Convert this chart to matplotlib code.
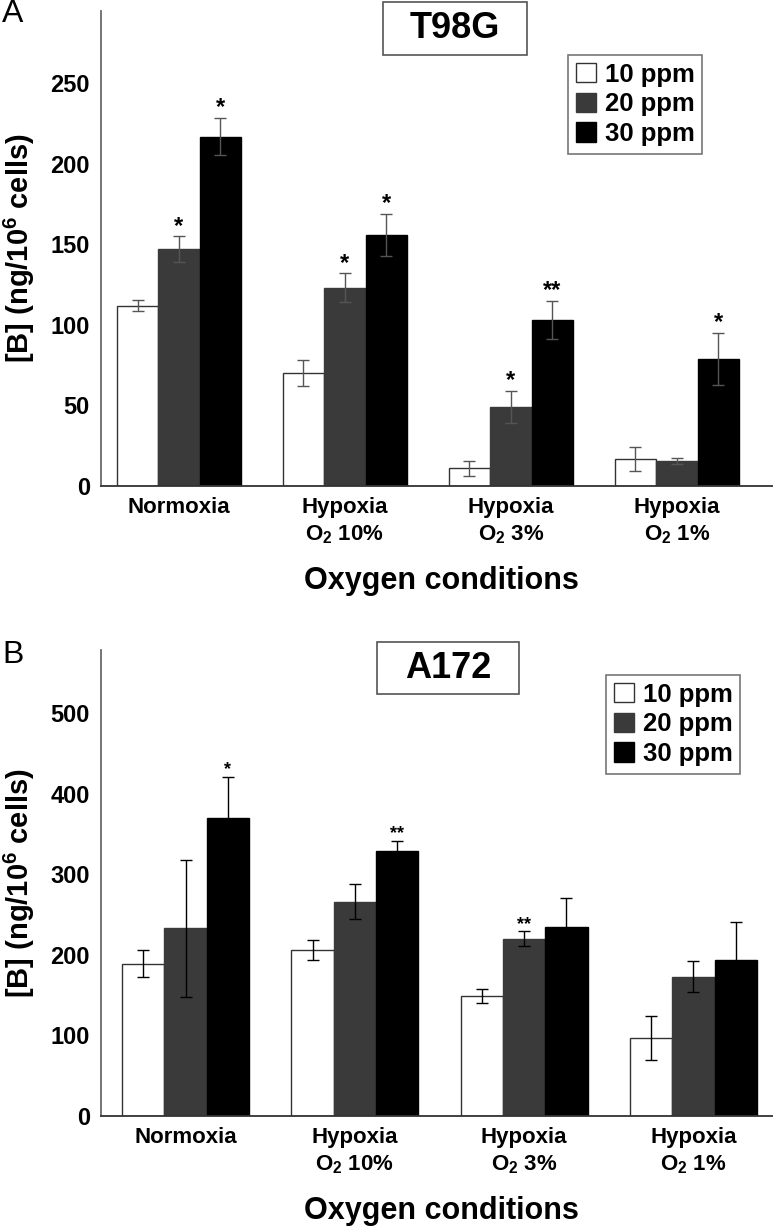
import matplotlib
matplotlib.use("Agg")
import matplotlib.pyplot as plt
from matplotlib.patches import Rectangle, Patch
import numpy as np

plt.rcParams['font.family'] = ['Liberation Sans', 'DejaVu Sans']
plt.rcParams['font.weight'] = 'bold'
plt.rcParams['mathtext.fontset'] = 'custom'
plt.rcParams['mathtext.rm'] = 'Liberation Sans:bold'
plt.rcParams['mathtext.bf'] = 'Liberation Sans:bold'
plt.rcParams['mathtext.it'] = 'Liberation Sans:bold'
plt.rcParams['mathtext.default'] = 'rm'

# ---------------- data ----------------
categories = ["Normoxia", "Hypoxia\nO$_2$ 10%", "Hypoxia\nO$_2$ 3%", "Hypoxia\nO$_2$ 1%"]
series_names = ["10 ppm", "20 ppm", "30 ppm"]

t98g_10 = [112, 70, 11, 17]
t98g_20 = [147, 123, 49, 15.5]
t98g_30 = [217, 156, 103, 79]
t98g_10_err = [3.5, 8, 4.5, 7.5]
t98g_20_err = [8, 9, 10, 2]
t98g_30_err = [11.5, 13, 12, 16]
t98g_stars_20 = ["*", "*", "*", ""]
t98g_stars_30 = ["*", "*", "**", "*"]

a172_10 = [189, 206, 149, 97]
a172_20 = [233, 266, 220, 173]
a172_30 = [370, 329, 234, 194]
a172_10_err = [17, 12, 9, 27]
a172_20_err = [85, 22, 9, 19]
a172_30_err = [51, 12, 36, 47]
a172_stars_20 = ["", "", "**", ""]
a172_stars_30 = ["*", "**", "", ""]

t98g_ticks = [0, 50, 100, 150, 200, 250]
a172_ticks = [0, 100, 200, 300, 400, 500]

W, H = 773, 1230
fig = plt.figure(figsize=(W / 100, H / 100), dpi=100)

def fbox(x0, y0, x1, y1):
    # pixel box (top-left origin) -> figure fraction [l, b, w, h]
    return [x0 / W, 1 - y1 / H, (x1 - x0) / W, (y1 - y0) / H]

colors = ["white", "#3a3a3a", "black"]
edgecols = ["#333333", "#3a3a3a", "black"]
bw = 0.25

def panel(rect, vals, errs, stars, ylim, xlim, ticks, ecolor, star_fs, title, title_box, legend_anchor, letter, letter_pos, xlabel_y):
    ax = fig.add_axes(rect)
    x = np.arange(len(categories))
    for i, (v, e) in enumerate(zip(vals, errs)):
        xi = x + (i - 1) * bw
        ax.bar(xi, v, width=bw, color=colors[i], edgecolor=edgecols[i], linewidth=1.0, zorder=2)
        ax.errorbar(xi, v, yerr=e, fmt='none', ecolor=ecolor, elinewidth=1.0, capsize=4, capthick=1.0, zorder=3)
        if stars[i] is not None:
            for j in range(len(categories)):
                s = stars[i][j]
                if s:
                    ax.annotate(s, (xi[j], v[j] + e[j]), xytext=(0, -1), textcoords='offset points',
                                ha='center', va='bottom', fontsize=star_fs, fontweight='bold', zorder=4)
    ax.set_xlim(*xlim)
    ax.set_ylim(*ylim)
    ax.set_yticks(ticks)
    ax.set_yticklabels([str(t) for t in ticks], fontsize=17, fontweight='bold')
    ax.set_xticks(x)
    ax.set_xticklabels(categories, fontsize=16, fontweight='bold', linespacing=1.3)
    ax.tick_params(axis='both', length=0)
    ax.tick_params(axis='y', pad=8)
    ax.tick_params(axis='x', pad=8)
    for s in ['top', 'right']:
        ax.spines[s].set_visible(False)
    ax.spines['left'].set_color('#6a6a6a')
    ax.spines['bottom'].set_color('#333333')
    ax.spines['left'].set_linewidth(1.3)
    ax.spines['bottom'].set_linewidth(1.3)
    ax.set_xlabel("Oxygen conditions", fontsize=22, fontweight='bold')
    ax.xaxis.set_label_coords(441 / W, 1 - xlabel_y / H, transform=fig.transFigure)
    ax.xaxis.label.set_va('center')
    ax.set_ylabel("[B] (ng/10$^6$ cells)", fontsize=21, fontweight='bold')
    ax.yaxis.set_label_coords(19 / W, 0.5, transform=fig.transFigure)
    ax.yaxis.label.set_va('center')
    ax.yaxis.label.set_y(1 - ((rect_to_px(rect))) / H)
    # title box
    bx0, by0, bx1, by1 = title_box
    fig.patches.append(Rectangle((bx0 / W, 1 - by1 / H), (bx1 - bx0) / W, (by1 - by0) / H,
                                 transform=fig.transFigure, facecolor='white', edgecolor='#555555',
                                 linewidth=1.2, zorder=5))
    fig.text((bx0 + bx1) / 2 / W, 1 - (by0 + by1) / 2 / H, title, ha='center', va='center',
             fontsize=26, fontweight='bold', zorder=6)
    handles = [Patch(facecolor=colors[i], edgecolor=edgecols[i], linewidth=1.0) for i in range(3)]
    leg = ax.legend(handles, series_names, loc='upper left',
                    bbox_to_anchor=(legend_anchor[0] / W, 1 - legend_anchor[1] / H),
                    bbox_transform=fig.transFigure, borderaxespad=0,
                    frameon=True, fancybox=False, shadow=False,
                    handlelength=0.78, handleheight=0.78, handletextpad=0.35,
                    labelspacing=0.22, borderpad=0.3, prop={'weight': 'bold', 'size': 18.5})
    leg.get_frame().set_edgecolor('#555555')
    leg.get_frame().set_linewidth(1.2)
    fig.text(letter_pos[0] / W, 1 - letter_pos[1] / H, letter, fontsize=23, fontweight='normal',
             ha='left', va='center')
    return ax

def rect_to_px(rect):
    # vertical centre of the axes, in pixels from the top
    return (1 - (rect[1] + rect[3] / 2)) * H

axA = panel(fbox(101, 11, 773, 486),
            [t98g_10, t98g_20, t98g_30],
            [t98g_10_err, t98g_20_err, t98g_30_err],
            [None, t98g_stars_20, t98g_stars_30],
            (0, 295), (-0.47, 3.58), t98g_ticks, '#555555', 17,
            "T98G", (383, 2, 527, 55), (568, 55), "A", (2, 14), 581)

axB = panel(fbox(101, 650, 773, 1116),
            [a172_10, a172_20, a172_30],
            [a172_10_err, a172_20_err, a172_30_err],
            [None, a172_stars_20, a172_stars_30],
            (0, 578), (-0.5, 3.47), a172_ticks, 'black', 13,
            "A172", (377, 642, 519, 694), (606, 675), "B", (2, 655), 1211)

fig.savefig("out.png", dpi=100)
